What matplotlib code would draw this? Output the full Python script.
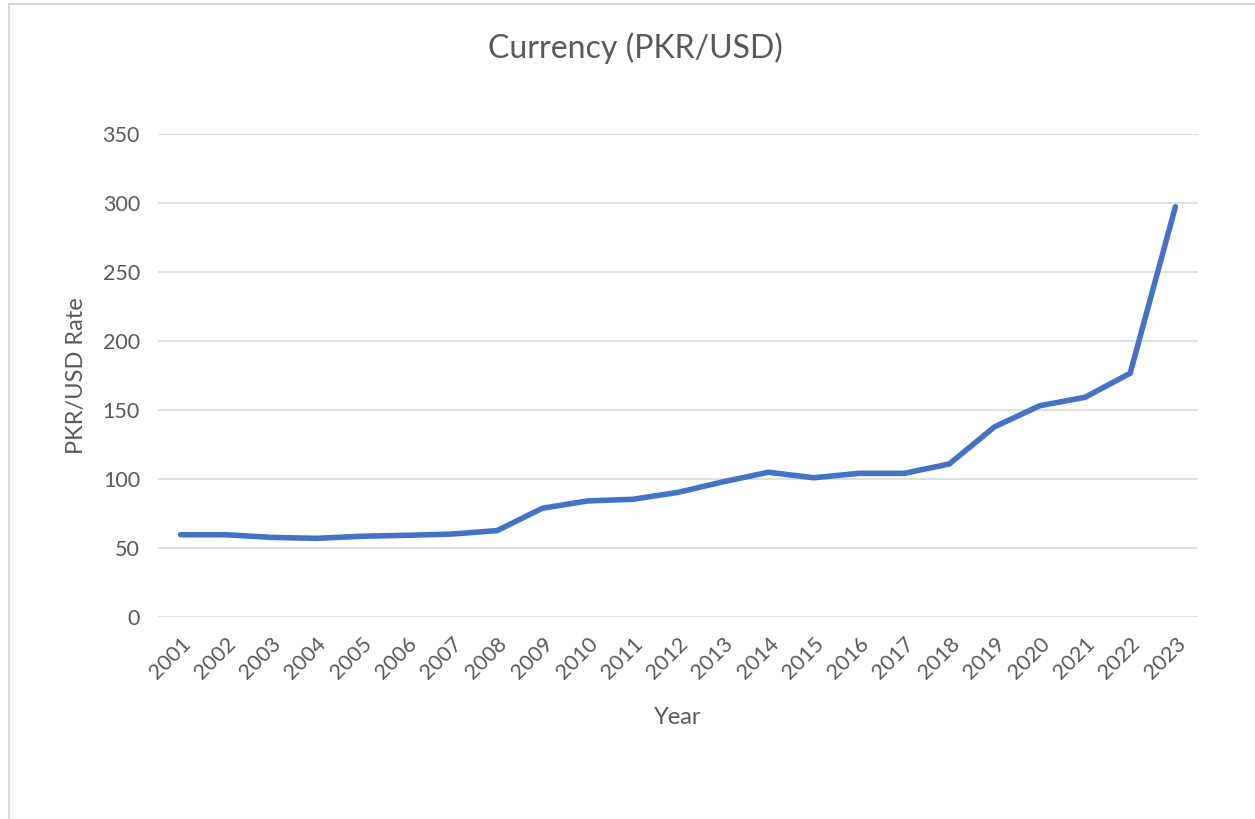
import matplotlib
matplotlib.use("Agg")
import matplotlib.pyplot as plt
from matplotlib.patches import Rectangle

years = [str(y) for y in range(2001, 2024)]
pkr_usd = [59.6, 59.6, 57.7, 57.0, 58.5, 59.2, 60.1, 62.6, 78.8, 84.1, 85.3, 90.3,
           98.0, 104.9, 100.9, 104.1, 104.1, 110.9, 137.8, 153.1, 159.2, 176.6, 297.3]
y_ticks = [0, 50, 100, 150, 200, 250, 300, 350]

plt.rcParams['font.family'] = ['Lato', 'DejaVu Sans']
text_col = '#595959'
grid_col = '#D9D9D9'

fig = plt.figure(figsize=(12.55, 8.19), dpi=100)

# chart border (Excel style), runs off the right and bottom of the image
fig.patches.append(Rectangle((8.5 / 1255, -0.1), 1.2, 1 + 0.1 - 4.5 / 819,
                             transform=fig.transFigure, fill=False,
                             edgecolor=grid_col, linewidth=1.5))

ax = fig.add_axes([158 / 1255, 202 / 819, 1040 / 1255, 483 / 819])
x = list(range(len(years)))
ax.plot(x, pkr_usd, color='#4472C4', linewidth=4, solid_capstyle='round',
        solid_joinstyle='round', zorder=3)

ax.set_xlim(-0.5, len(years) - 0.5)
ax.set_ylim(0, 350)
ax.set_yticks(y_ticks)
ax.set_xticks(x)
ax.set_xticklabels(years, rotation=45, ha='right', rotation_mode='anchor')
ax.yaxis.grid(True, color=grid_col, linewidth=1.2)
ax.set_axisbelow(True)
for s in ax.spines.values():
    s.set_visible(False)
ax.tick_params(length=0, colors=text_col, labelsize=15.5)
ax.tick_params(axis='y', pad=13)
ax.tick_params(axis='x', pad=12)

fig.text(635 / 1255, 1 - 48 / 819, 'Currency (PKR/USD)', fontsize=23,
         color=text_col, ha='center', va='center')
ax.set_xlabel('Year', fontsize=17, color=text_col, labelpad=17)
ax.set_ylabel('PKR/USD Rate', fontsize=17, color=text_col, labelpad=11)

fig.savefig('out.png', dpi=100, facecolor='white')
